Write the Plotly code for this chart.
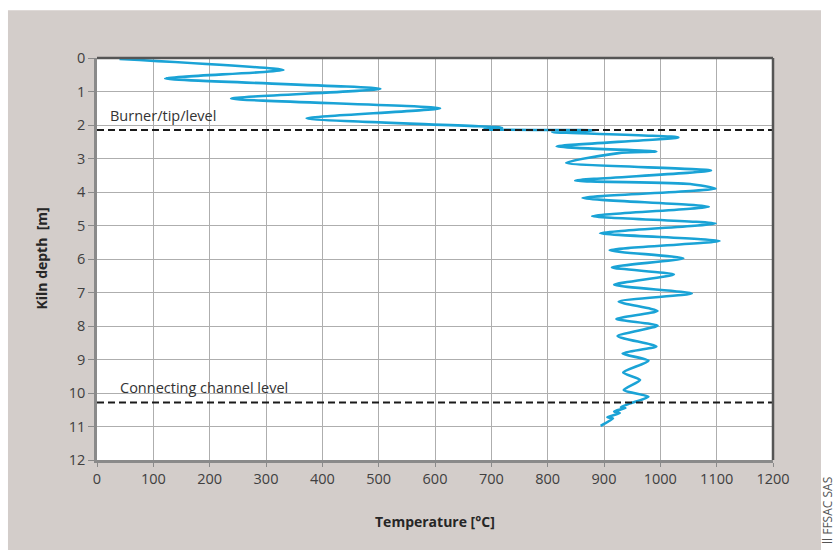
import plotly.graph_objects as go

# Temperature profile along the kiln shaft
temperature_c = [40, 331, 121, 503, 238, 609, 372, 719, 686, 885, 808, 1032, 816, 993, 926, 833,
                 1090, 849, 1053, 1098, 862, 1086, 879, 1098, 893, 1105, 910, 1041, 914, 1024,
                 918, 1056, 926, 995, 922, 995, 924, 993, 933, 979, 934, 964, 935, 979, 947,
                 930, 938, 918, 928, 906, 916, 894]
depth_m = [0.03, 0.36, 0.61, 0.92, 1.21, 1.50, 1.80, 2.08, 2.13, 2.16, 2.21, 2.37, 2.64, 2.79,
           2.84, 3.13, 3.36, 3.66, 3.76, 3.90, 4.18, 4.44, 4.72, 4.94, 5.23, 5.46, 5.74, 5.98,
           6.25, 6.46, 6.77, 7.03, 7.27, 7.55, 7.79, 7.99, 8.30, 8.61, 8.82, 9.04, 9.39, 9.61,
           9.91, 10.11, 10.31, 10.42, 10.45, 10.55, 10.60, 10.72, 10.76, 10.98]

# Reference levels in the shaft
level_names = ["Burner/tip/level", "Connecting channel level"]
level_depths = [2.15, 10.28]
level_label_x = [20, 38]

x_ticks = list(range(0, 1201, 100))
y_ticks = list(range(0, 13))

PANEL = "#d3cdca"
FONT = "Open Sans, Lato, sans-serif"

fig = go.Figure()
fig.add_trace(go.Scatter(
    x=temperature_c, y=depth_m, mode="lines",
    line=dict(color="#1aa3d6", width=2.6, shape="spline", smoothing=0.6),
    hoverinfo="skip", showlegend=False,
))

shapes = []
annotations = []
for name, d, lx in zip(level_names, level_depths, level_label_x):
    shapes.append(dict(type="line", xref="x", yref="y", x0=0, x1=1200, y0=d, y1=d,
                       line=dict(color="#1a1a1a", width=2, dash="7px,4px"), layer="above"))
    annotations.append(dict(x=lx, y=d, xref="x", yref="y", text=name, showarrow=False,
                            xanchor="left", yanchor="bottom", yshift=3,
                            font=dict(family=FONT, size=14.5, color="#333333")))

# dark top and right borders of the plot frame
shapes.append(dict(type="line", xref="paper", yref="paper", x0=0, x1=1, y0=1, y1=1,
                   line=dict(color="#555555", width=2.5), layer="above"))
shapes.append(dict(type="line", xref="paper", yref="paper", x0=1, x1=1, y0=0, y1=1,
                   line=dict(color="#555555", width=2.5), layer="above"))

# white page strips around the grey panel
shapes.append(dict(type="rect", xref="paper", yref="paper", x0=-0.2, x1=1.3, y0=1.119, y1=1.3,
                   fillcolor="white", line=dict(width=0)))
shapes.append(dict(type="rect", xref="paper", yref="paper", x0=-0.2, x1=-0.1317, y0=-0.3, y1=1.3,
                   fillcolor="white", line=dict(width=0)))
shapes.append(dict(type="rect", xref="paper", yref="paper", x0=1.071, x1=1.3, y0=-0.3, y1=1.3,
                   fillcolor="white", line=dict(width=0)))

annotations.append(dict(x=0.5, y=-0.152, xref="paper", yref="paper", text="<b>Temperature [°C]</b>",
                        showarrow=False, xanchor="center", yanchor="middle",
                        font=dict(family=FONT, size=14, color="#262626")))
annotations.append(dict(x=-0.0835, y=0.5, xref="paper", yref="paper",
                        text="<b>Kiln depth\u00a0 [m]</b>", textangle=-90,
                        showarrow=False, xanchor="center", yanchor="middle",
                        font=dict(family=FONT, size=14, color="#262626")))
annotations.append(dict(x=1.0805, y=-0.214, xref="paper", yref="paper", text="ll FFSAC SAS",
                        textangle=-90, showarrow=False, xanchor="center", yanchor="bottom",
                        font=dict(family=FONT, size=12, color="#555555")))

fig.update_layout(
    width=837, height=550,
    margin=dict(l=97, r=64, t=58, b=90),
    paper_bgcolor=PANEL, plot_bgcolor="white",
    font=dict(family=FONT, size=14.5, color="#404040"),
    shapes=shapes, annotations=annotations,
    xaxis=dict(range=[0, 1200], tickvals=x_ticks, showgrid=True, gridcolor="#aeaeae", gridwidth=1.4,
               showline=True, linecolor="#8a8a8a", linewidth=2.5, ticks="outside", ticklen=4,
               tickcolor="#8a8a8a", zeroline=False, fixedrange=True),
    yaxis=dict(range=[12, 0], tickvals=y_ticks, showgrid=True, gridcolor="#aeaeae", gridwidth=1.4,
               showline=True, linecolor="#8a8a8a", linewidth=2.5, ticks="outside", ticklen=6,
               tickcolor="#8a8a8a", zeroline=False, fixedrange=True),
)

fig.write_html("out.html")
